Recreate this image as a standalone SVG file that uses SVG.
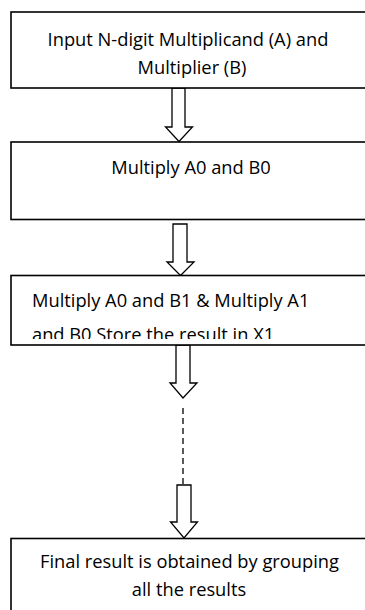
<svg xmlns="http://www.w3.org/2000/svg" width="365" height="610" viewBox="0 0 365 610">
  <style>
    .box { fill: #fff; stroke: #000; stroke-width: 1.6; }
    .arrow { fill: #fff; stroke: #000; stroke-width: 1.3; stroke-linejoin: miter; }
    .dash { stroke: #000; stroke-width: 1.3; stroke-dasharray: 6 4; fill: none; }
    .label { font-family: "Open Sans", "Liberation Sans", sans-serif; font-size: 18.3px; fill: #000; }
    .mid { text-anchor: middle; }
  </style>
  <defs>
    <clipPath id="clip-step2">
      <rect x="11" y="276" width="360" height="63"/>
    </clipPath>
  </defs>
  <rect width="365" height="610" fill="#fff"/>

  <g id="connectors">
    <polygon class="arrow" points="172,88 185,88 185,127 192.5,127 179,141.5 165.5,127 172,127"/>
    <polygon class="arrow" points="173,224 187,224 187,262 194,262 180.5,275.5 167,262 173,262"/>
    <polygon class="arrow" points="176,345 190,345 190,383 197,383 183,398 170,383 176,383"/>
    <line class="dash" x1="183" y1="408" x2="183" y2="484"/>
    <polygon class="arrow" points="177,485 191,485 191,522 197.5,522 184,538 170.5,522 177,522"/>
  </g>

  <g id="input">
    <rect class="box" x="11" y="12" width="360" height="76"/>
    <text class="label mid" x="188" y="46">Input N-digit Multiplicand (A) and</text>
    <text class="label mid" x="192" y="74">Multiplier (B)</text>
  </g>

  <g id="step1">
    <rect class="box" x="11" y="142" width="360" height="77.5"/>
    <text class="label mid" x="191" y="174">Multiply A0 and B0</text>
  </g>

  <g id="step2">
    <rect class="box" x="11" y="275.5" width="360" height="69.5"/>
    <g clip-path="url(#clip-step2)">
      <text class="label" x="32" y="307">Multiply A0 and B1 &amp; Multiply A1</text>
      <text class="label" x="32" y="341">and B0 Store the result in X1</text>
    </g>
  </g>

  <g id="result">
    <rect class="box" x="11" y="538.5" width="360" height="80"/>
    <text class="label mid" x="189.5" y="568">Final result is obtained by grouping</text>
    <text class="label mid" x="189" y="596">all the results</text>
  </g>
</svg>
